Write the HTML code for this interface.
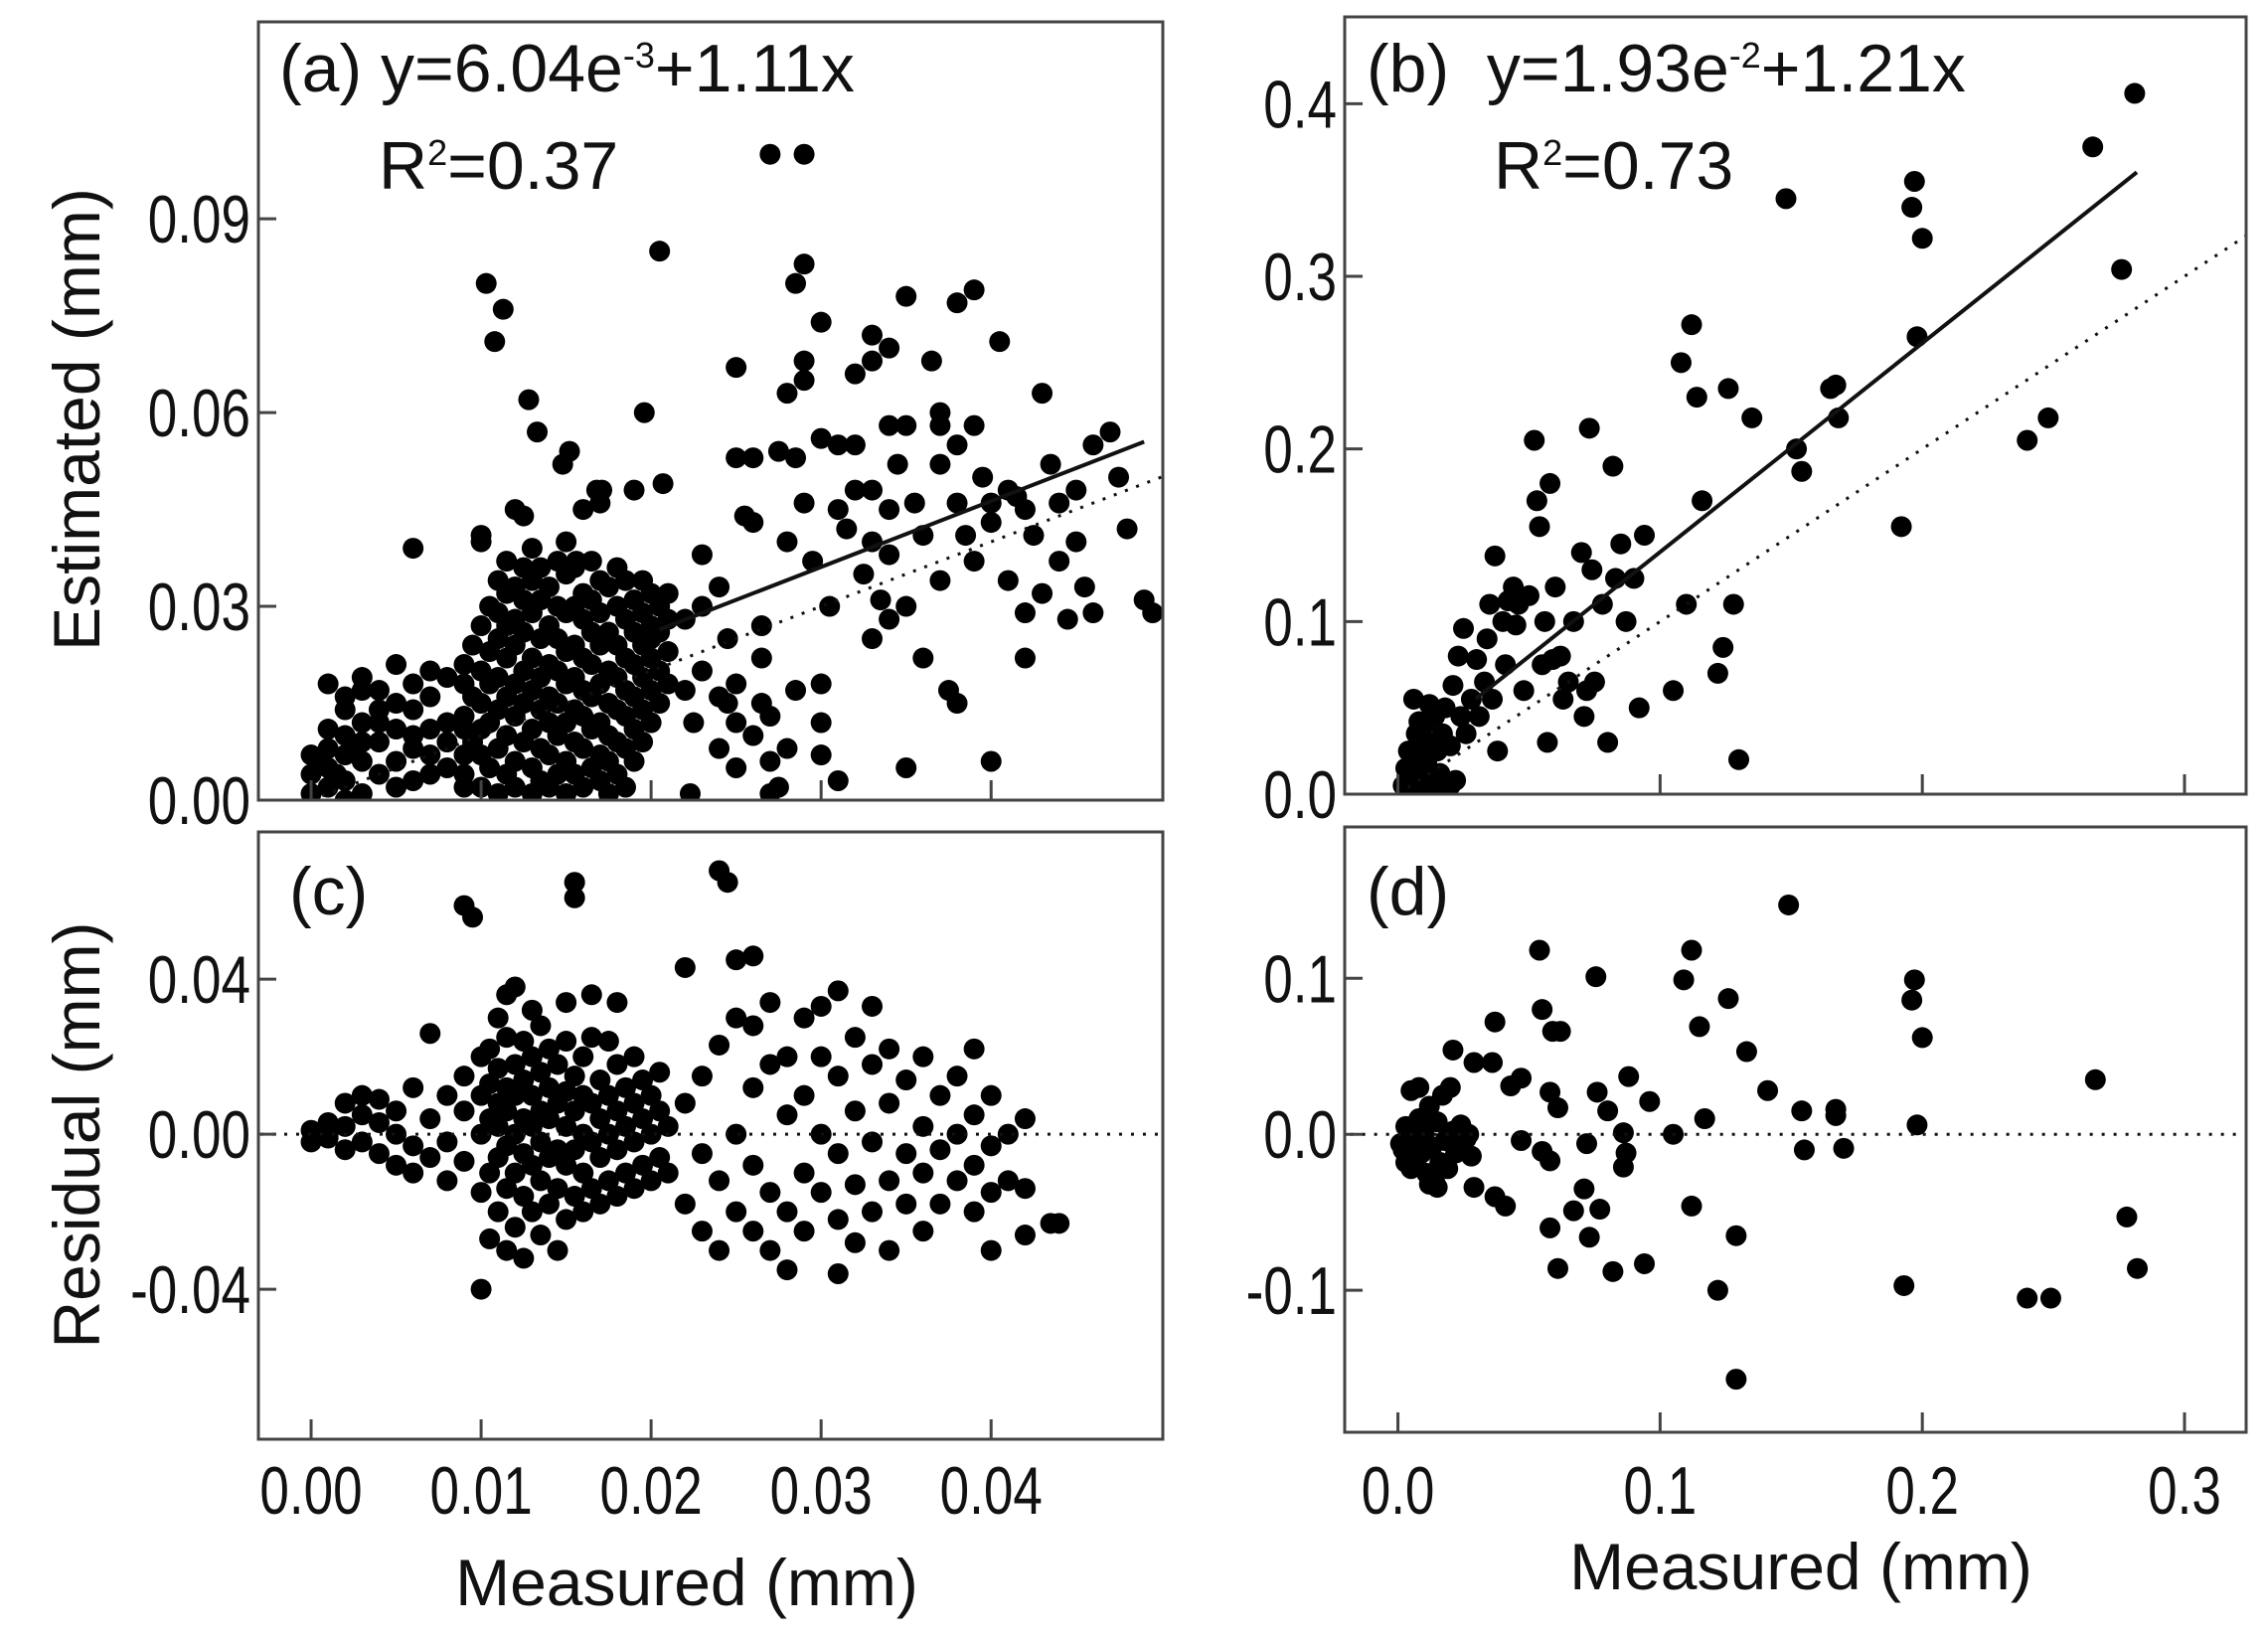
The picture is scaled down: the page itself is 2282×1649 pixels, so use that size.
<!DOCTYPE html>
<html><head><meta charset="utf-8">
<style>
html,body{margin:0;padding:0;background:#fff;}
svg{display:block;}
text{font-family:"Liberation Sans",Arial,sans-serif;fill:#111;}
</style></head>
<body>
<svg id="fig" width="2282" height="1649" viewBox="0 0 2282 1649" xmlns="http://www.w3.org/2000/svg"></svg>
<script>
// ---- data (a) ----
const aPts=[[0,0.007],[0,0.004],[0.001,0.008],[0.001,0.002],[0.001,0.005],[0.002,0.007],[0.002,0.003],[0.002,0.010],[0.003,0.006],[0.003,0.001],[0.003,0.009],[0.004,0.004],[0.004,0.012],[0,0.001],[0.001,0.011],[0.002,0],[0.003,0.012],[0.0005,0.006],[0.0015,0.004],[0.0025,0.008],
[0.001,0.018],[0.002,0.016],[0.003,0.019],[0.004,0.017],[0.005,0.021],[0.005,0.015],[0.006,0.018],[0.007,0.020],[0.002,0.014],[0.004,0.014],[0.006,0.014],[0.007,0.016],[0.008,0.019],[0.003,0.017],
[0.004,0.009],[0.005,0.006],[0.005,0.011],[0.006,0.008],[0.006,0.003],[0.007,0.007],[0.007,0.011],[0.008,0.005],[0.008,0.009],[0.008,0.012],[0.009,0.007],[0.009,0.002],[0.009,0.011],[0.005,0.002],[0.006,0.010],[0.007,0.004],[0.006,0.039],
[0.009,0.004],[0.009,0.013],[0.009,0.018],[0.009,0.021],[0.0095,0.009],[0.0095,0.016],[0.0095,0.024],
[0.010,0.002],[0.010,0.007],[0.010,0.011],[0.010,0.015],[0.010,0.020],[0.010,0.027],[0.010,0.041],[0.010,0.040],
[0.0105,0.005],[0.0105,0.012],[0.0105,0.018],[0.0105,0.023],[0.0105,0.030],
[0.011,0.001],[0.011,0.008],[0.011,0.014],[0.011,0.019],[0.011,0.025],[0.011,0.029],[0.011,0.034],
[0.0115,0.004],[0.0115,0.010],[0.0115,0.016],[0.0115,0.022],[0.0115,0.027],[0.0115,0.032],[0.0115,0.037],
[0.012,0.002],[0.012,0.006],[0.012,0.013],[0.012,0.018],[0.012,0.024],[0.012,0.028],[0.012,0.033],[0.012,0.045],
[0.0125,0.009],[0.0125,0.015],[0.0125,0.020],[0.0125,0.026],[0.0125,0.031],[0.0125,0.036],[0.0125,0.044],
[0.013,0.001],[0.013,0.005],[0.013,0.011],[0.013,0.017],[0.013,0.022],[0.013,0.029],[0.013,0.034],[0.013,0.039],
[0.0135,0.003],[0.0135,0.008],[0.0135,0.014],[0.0135,0.019],[0.0135,0.025],[0.0135,0.031],[0.0135,0.036],
[0.014,0.002],[0.014,0.007],[0.014,0.012],[0.014,0.016],[0.014,0.021],[0.014,0.027],[0.014,0.033],
[0.0145,0.004],[0.0145,0.010],[0.0145,0.015],[0.0145,0.020],[0.0145,0.025],[0.0145,0.030],[0.0145,0.037],
[0.015,0.001],[0.015,0.006],[0.015,0.012],[0.015,0.018],[0.015,0.023],[0.015,0.029],[0.015,0.035],[0.015,0.040],
[0.0155,0.004],[0.0155,0.009],[0.0155,0.014],[0.0155,0.019],[0.0155,0.024],[0.0155,0.030],[0.0155,0.036],
[0.016,0.002],[0.016,0.008],[0.016,0.013],[0.016,0.017],[0.016,0.022],[0.016,0.028],[0.016,0.032],[0.016,0.045],
[0.0165,0.005],[0.0165,0.011],[0.0165,0.016],[0.0165,0.021],[0.0165,0.026],[0.0165,0.031],[0.0165,0.037],
[0.017,0.003],[0.017,0.007],[0.017,0.012],[0.017,0.018],[0.017,0.024],[0.017,0.029],[0.017,0.034],[0.017,0.046],
[0.0175,0.001],[0.0175,0.006],[0.0175,0.010],[0.0175,0.015],[0.0175,0.020],[0.0175,0.026],[0.0175,0.033],
[0.018,0.004],[0.018,0.009],[0.018,0.014],[0.018,0.019],[0.018,0.024],[0.018,0.030],[0.018,0.036],
[0.0185,0.002],[0.0185,0.008],[0.0185,0.013],[0.0185,0.017],[0.0185,0.022],[0.0185,0.028],[0.0185,0.034],
[0.019,0.006],[0.019,0.011],[0.019,0.016],[0.019,0.021],[0.019,0.026],[0.019,0.031],[0.019,0.048],
[0.0195,0.009],[0.0195,0.014],[0.0195,0.019],[0.0195,0.024],[0.0195,0.029],[0.0195,0.034],
[0.020,0.012],[0.020,0.017],[0.020,0.022],[0.020,0.027],[0.020,0.032],[0.020,0.025],
[0.0205,0.015],[0.0205,0.020],[0.0205,0.026],[0.0205,0.030],[0.021,0.018],[0.021,0.023],[0.021,0.028],[0.021,0.032],
[0.0103,0.080],[0.0108,0.071],[0.0113,0.076],[0.0128,0.062],[0.0133,0.057],[0.0148,0.052],[0.0152,0.054],[0.0168,0.048],[0.0171,0.048],[0.0196,0.060],[0.0205,0.085],[0.0207,0.049],[0.0223,0.001],[0.0120,0.033],[0.0156,0.037],
[0.022,0.017],[0.022,0.028],[0.0225,0.012],[0.023,0.030],[0.023,0.020],[0.024,0.016],[0.024,0.008],[0.0245,0.015],[0.025,0.018],[0.025,0.012],[0.025,0.005],[0.025,0.067],[0.025,0.053],[0.0255,0.044],[0.026,0.043],[0.026,0.053],[0.0265,0.022],[0.026,0.010],[0.0265,0.015],[0.027,0.006],[0.027,0.013],[0.027,0.001],[0.0275,0.002],[0.027,0.100],[0.0275,0.054],[0.028,0.063],[0.028,0.040],[0.0285,0.017],[0.028,0.008],[0.029,0.100],[0.0285,0.080],[0.029,0.083],[0.029,0.065],[0.029,0.068],[0.0285,0.053],[0.029,0.046],[0.0295,0.037],[0.030,0.074],[0.030,0.056],[0.030,0.018],[0.030,0.012],[0.030,0.007],[0.0305,0.030],[0.031,0.055],[0.031,0.045],[0.031,0.003],[0.0315,0.042],[0.032,0.055],[0.032,0.066],[0.032,0.048],[0.0325,0.035],[0.033,0.072],[0.033,0.068],[0.033,0.048],[0.033,0.040],[0.0335,0.031],[0.033,0.025],[0.034,0.070],[0.034,0.058],[0.034,0.045],[0.0345,0.052],[0.034,0.038],[0.034,0.028],[0.035,0.078],[0.035,0.058],[0.035,0.030],[0.035,0.005],[0.0355,0.046],[0.036,0.022],[0.036,0.041],[0.0365,0.068],[0.037,0.060],[0.037,0.058],[0.037,0.052],[0.037,0.034],[0.0375,0.017],[0.038,0.077],[0.038,0.055],[0.038,0.046],[0.038,0.015],[0.0385,0.041],[0.039,0.079],[0.039,0.058],[0.039,0.037],[0.0395,0.050],[0.040,0.046],[0.040,0.006],[0.040,0.043],[0.0405,0.071],[0.041,0.048],[0.041,0.034],[0.0415,0.047],[0.042,0.045],[0.042,0.022],[0.0425,0.041],[0.042,0.029],[0.043,0.032],[0.043,0.063],[0.0435,0.052],[0.044,0.046],[0.044,0.037],[0.0445,0.028],[0.045,0.048],[0.045,0.040],[0.0455,0.033],[0.046,0.055],[0.046,0.029],[0.047,0.057],[0.0475,0.050],[0.048,0.042],[0.049,0.031],[0.0495,0.029],[0.023,0.038],[0.024,0.033],[0.0265,0.027],[0.0245,0.025]];
// ---- data (c) residuals ----
const cPts=[[0,0.001],[0,-0.002],[0.001,0.003],[0.001,-0.001],[0.001,0],[0.002,0.008],[0.002,-0.004],[0.002,0.002],[0.003,0.010],[0.003,-0.002],[0.003,0.005],[0.004,-0.005],[0.004,0.003],[0.004,0.009],[0.005,0],[0.005,-0.008],[0.005,0.006],[0.006,0.012],[0.006,-0.003],[0.006,-0.010],[0.007,0.004],[0.007,-0.006],[0.007,0.026],[0.008,0.010],[0.008,-0.002],[0.008,-0.012],[0.009,0.006],[0.009,-0.007],[0.009,0.015],[0.009,0.059],[0.0095,0.056],[0.010,0],[0.010,-0.015],[0.010,0.010],[0.010,-0.040],[0.010,0.020],
[0.0105,-0.027],[0.0105,-0.010],[0.0105,0.004],[0.0105,0.013],[0.0105,0.022],
[0.011,-0.020],[0.011,-0.006],[0.011,0.002],[0.011,0.008],[0.011,0.017],[0.011,0.030],
[0.0115,-0.030],[0.0115,-0.014],[0.0115,-0.003],[0.0115,0.006],[0.0115,0.012],[0.0115,0.025],[0.0115,0.036],
[0.012,-0.024],[0.012,-0.010],[0.012,0],[0.012,0.010],[0.012,0.018],[0.012,0.038],
[0.0125,-0.032],[0.0125,-0.016],[0.0125,-0.005],[0.0125,0.004],[0.0125,0.014],[0.0125,0.024],
[0.013,-0.020],[0.013,-0.008],[0.013,0.002],[0.013,0.010],[0.013,0.020],[0.013,0.032],
[0.0135,-0.026],[0.0135,-0.012],[0.0135,-0.002],[0.0135,0.006],[0.0135,0.016],[0.0135,0.028],
[0.014,-0.018],[0.014,-0.006],[0.014,0.004],[0.014,0.012],[0.014,0.022],
[0.0145,-0.030],[0.0145,-0.014],[0.0145,-0.004],[0.0145,0.008],[0.0145,0.018],
[0.015,-0.022],[0.015,-0.008],[0.015,0.002],[0.015,0.011],[0.015,0.024],[0.015,0.034],
[0.0155,-0.016],[0.0155,-0.004],[0.0155,0.006],[0.0155,0.015],[0.0155,0.061],[0.0155,0.065],
[0.016,-0.020],[0.016,-0.010],[0.016,0],[0.016,0.010],[0.016,0.020],
[0.0165,-0.014],[0.0165,-0.002],[0.0165,0.008],[0.0165,0.036],[0.0165,0.025],
[0.017,-0.018],[0.017,-0.006],[0.017,0.004],[0.017,0.014],
[0.0175,-0.012],[0.0175,0],[0.0175,0.010],[0.0175,0.024],
[0.018,-0.016],[0.018,-0.004],[0.018,0.006],[0.018,0.018],[0.018,0.034],
[0.0185,-0.010],[0.0185,0.002],[0.0185,0.012],
[0.019,-0.014],[0.019,-0.002],[0.019,0.008],[0.019,0.020],
[0.0195,-0.008],[0.0195,0.004],[0.0195,0.014],
[0.020,-0.012],[0.020,0],[0.020,0.010],[0.0205,-0.006],[0.0205,0.006],[0.0205,0.016],[0.021,-0.010],[0.021,0.002],
[0.022,0.043],[0.022,-0.018],[0.022,0.008],[0.023,-0.005],[0.023,0.015],[0.023,-0.025],[0.024,0.068],[0.0245,0.065],[0.024,0.023],[0.024,-0.012],[0.024,-0.030],[0.025,0.045],[0.025,0.030],[0.025,0],[0.025,-0.020],[0.026,0.046],[0.026,0.028],[0.026,0.012],[0.026,-0.008],[0.026,-0.025],[0.027,0.034],[0.027,0.018],[0.027,-0.015],[0.027,-0.030],[0.028,0.020],[0.028,0.005],[0.028,-0.020],[0.028,-0.035],[0.029,0.030],[0.029,0.010],[0.029,-0.010],[0.029,-0.025],[0.030,0.033],[0.030,0.020],[0.030,0],[0.030,-0.015],[0.031,0.037],[0.031,0.015],[0.031,-0.005],[0.031,-0.022],[0.031,-0.036],[0.032,0.025],[0.032,0.006],[0.032,-0.013],[0.032,-0.028],[0.033,0.033],[0.033,0.018],[0.033,-0.002],[0.033,-0.020],[0.034,0.022],[0.034,0.008],[0.034,-0.012],[0.034,-0.030],[0.035,0.014],[0.035,-0.005],[0.035,-0.018],[0.036,0.020],[0.036,0.002],[0.036,-0.010],[0.036,-0.025],[0.037,0.010],[0.037,-0.004],[0.037,-0.018],[0.038,0.015],[0.038,0],[0.038,-0.012],[0.039,0.022],[0.039,0.005],[0.039,-0.008],[0.039,-0.020],[0.040,0.010],[0.040,-0.003],[0.040,-0.015],[0.040,-0.030],[0.041,0],[0.041,-0.012],[0.042,0.004],[0.042,-0.014],[0.042,-0.026],[0.044,-0.023],[0.0435,-0.023]];
// ---- data (b) ----
const bPts=[[0.002,0.005],[0.003,0.015],[0.004,0.025],[0.005,0.008],[0.006,0.020],[0.007,0.035],[0.008,0.012],[0.009,0.028],[0.010,0.040],[0.011,0.018],[0.012,0.030],[0.013,0.006],[0.014,0.045],[0.015,0.025],[0.016,0.012],[0.017,0.035],[0.018,0.050],[0.006,0.055],[0.020,0.028],[0.021,0.063],[0.022,0.008],[0.023,0.080],[0.024,0.045],[0.025,0.096],[0.026,0.035],[0.028,0.055],[0.030,0.078],[0.031,0.045],[0.033,0.065],[0.034,0.090],[0.035,0.110],[0.036,0.055],[0.037,0.138],[0.038,0.025],[0.040,0.100],[0.041,0.075],[0.042,0.112],[0.044,0.120],[0.045,0.098],[0.046,0.110],[0.048,0.060],[0.050,0.115],[0.052,0.205],[0.053,0.170],[0.054,0.155],[0.055,0.075],[0.056,0.100],[0.057,0.030],[0.058,0.180],[0.059,0.078],[0.060,0.120],[0.062,0.080],[0.063,0.055],[0.065,0.065],[0.067,0.100],[0.070,0.140],[0.071,0.045],[0.072,0.060],[0.073,0.212],[0.074,0.130],[0.075,0.065],[0.078,0.110],[0.080,0.030],[0.082,0.190],[0.083,0.125],[0.085,0.145],[0.087,0.100],[0.090,0.125],[0.092,0.050],[0.094,0.150],[0.105,0.060],[0.108,0.250],[0.110,0.110],[0.112,0.272],[0.114,0.230],[0.116,0.170],[0.122,0.070],[0.124,0.085],[0.126,0.235],[0.128,0.110],[0.130,0.020],[0.135,0.218],[0.148,0.345],[0.152,0.200],[0.154,0.187],[0.165,0.235],[0.167,0.237],[0.168,0.218],[0.192,0.155],[0.196,0.340],[0.197,0.355],[0.198,0.265],[0.200,0.322],[0.240,0.205],[0.248,0.218],[0.265,0.375],[0.276,0.304],[0.281,0.406],[0.003,0],[0.010,0.002],[0.015,0],[0.020,0.005],[0.008,0.042],[0.012,0.052]];
// ---- data (d) residuals ----
const dPts=[[0.149,0.147],[0.054,0.118],[0.112,0.118],[0.0755,0.101],[0.109,0.099],[0.197,0.099],[0.196,0.086],[0.126,0.087],[0.055,0.080],[0.115,0.069],[0.200,0.062],[0.059,0.066],[0.062,0.066],[0.037,0.072],[0.133,0.053],[0.021,0.054],[0.029,0.046],[0.036,0.046],[0.266,0.035],[0.088,0.037],[0.141,0.028],[0.047,0.036],[0.043,0.031],[0.076,0.027],[0.096,0.021],[0.058,0.027],[0.154,0.015],[0.167,0.016],[0.167,0.012],[0.080,0.015],[0.061,0.017],[0.117,0.010],[0.198,0.006],[0.105,0],[0.086,0.001],[0.155,-0.010],[0.170,-0.009],[0.072,-0.006],[0.087,-0.012],[0.086,-0.021],[0.055,-0.011],[0.058,-0.017],[0.047,-0.004],[0.071,-0.035],[0.067,-0.049],[0.077,-0.048],[0.112,-0.046],[0.058,-0.060],[0.073,-0.066],[0.129,-0.065],[0.278,-0.053],[0.061,-0.086],[0.082,-0.088],[0.094,-0.083],[0.282,-0.086],[0.193,-0.097],[0.122,-0.100],[0.240,-0.105],[0.249,-0.105],[0.129,-0.157],[0.029,-0.034],[0.037,-0.040],[0.041,-0.046],
[0.002,-0.01],[0.003,0.005],[0.004,-0.015],[0.005,0.028],[0.006,-0.005],[0.007,-0.020],[0.008,0.010],[0.008,0.030],[0.009,-0.012],[0.010,0],[0.011,-0.025],[0.012,0.018],[0.013,-0.008],[0.014,-0.030],[0.015,0.008],[0.016,-0.018],[0.017,0.025],[0.018,-0.004],[0.019,-0.022],[0.020,0.030],[0.021,0.002],[0.022,-0.012],[0.024,0.006],[0.025,-0.008],[0.026,-0.003],[0.027,0],[0.028,-0.014],[0.005,-0.022],[0.003,-0.018],[0.001,-0.006],[0.012,-0.032],[0.015,-0.034]];
const aTicksX=[0,0.01,0.02,0.03,0.04], aTickLabX=["0.00","0.01","0.02","0.03","0.04"];
const aTicksY=[0,0.03,0.06,0.09], aTickLabY=["0.00","0.03","0.06","0.09"];
const bTicksX=[0,0.1,0.2,0.3], bTickLabX=["0.0","0.1","0.2","0.3"];
const bTicksY=[0,0.1,0.2,0.3,0.4], bTickLabY=["0.0","0.1","0.2","0.3","0.4"];
const cTicksY=[-0.04,0,0.04], cTickLabY=["-0.04","0.00","0.04"];
const dTicksY=[-0.1,0,0.1], dTickLabY=["-0.1","0.0","0.1"];
const aFit=[0.0055,1.02], bFit=[0.0193,1.21];

const NS="http://www.w3.org/2000/svg";
const svg=document.getElementById('fig');
const TS=0.78;
function el(tag,attrs,parent){const e=document.createElementNS(NS,tag);for(const k in attrs)e.setAttribute(k,attrs[k]);(parent||svg).appendChild(e);return e;}
function panel(name,box,xd,yd){
  const g=el('g',{});
  
  
  const sx=v=>box.l+(v-xd[0])/(xd[1]-xd[0])*(box.r-box.l);
  const sy=v=>box.b-(v-yd[0])/(yd[1]-yd[0])*(box.b-box.t);
  return {g,sx,sy,box};
}
function frame(P){
  const r=el('rect',{x:P.box.l,y:P.box.t,width:P.box.r-P.box.l,height:P.box.b-P.box.t,fill:'none',stroke:'#444','stroke-width':3},P.g);
  
  
}
function yTicks(P,ticks,labs){
  ticks.forEach((v,i)=>{const y=P.sy(v);
    el('line',{x1:P.box.l,x2:P.box.l+18,y1:y,y2:y,stroke:'#444','stroke-width':3},P.g);
    const t=el('text',{x:0,y:0,'font-size':68,'text-anchor':'end',transform:'translate('+(P.box.l-8)+','+(y+24)+') scale('+TS+',1)'},P.g);t.textContent=labs[i];
    
    });
}
function xTicks(P,ticks,labs){
  ticks.forEach((v,i)=>{const x=P.sx(v);
    el('line',{x1:x,x2:x,y1:P.box.b,y2:P.box.b-20,stroke:'#444','stroke-width':3},P.g);
    if(labs){const t=el('text',{x:0,y:0,'font-size':68,'text-anchor':'middle',transform:'translate('+x+',1523) scale('+TS+',1)'},P.g);t.textContent=labs[i];
    
    }});
}
function dots(P,pts,nm){
  const clip='clip-'+nm;
  const cp=el('clipPath',{id:clip},P.g);el('rect',{x:P.box.l,y:P.box.t,width:P.box.r-P.box.l,height:P.box.b-P.box.t},cp);
  const g=el('g',{'clip-path':'url(#'+clip+')'},P.g);
  pts.forEach(p=>{const c=el('circle',{cx:P.sx(p[0]),cy:P.sy(p[1]),r:10.5,fill:'#000'},g);
    
    });
  return g;
}
function line(P,x1,y1,x2,y2,dash,w,nm,parent){
  const l=el('line',{x1:P.sx(x1),y1:P.sy(y1),x2:P.sx(x2),y2:P.sy(y2),stroke:'#111','stroke-width':w,'stroke-dasharray':dash||'none'},parent||P.g);
  
  
}
function label(P,x,y,html,nm,fs){
  const t=el('text',{x:x,y:y,'font-size':fs||68},P.g);t.innerHTML=html;
  
  
}
// Panel a
const A=panel('panel-a',{l:260,r:1170,t:22,b:805},[-0.0031,0.0501],[0,0.1205]);
const ag=dots(A,aPts,'a');
line(A,0,0,0.06,0.06,'3 9',3,'one-to-one-line',ag);
line(A,0.0205,aFit[0]+aFit[1]*0.0205,0.049,aFit[0]+aFit[1]*0.049,null,4,'regression-line',ag);
frame(A);yTicks(A,aTicksY,aTickLabY);xTicks(A,aTicksX,null);
label(A,281,92,'(a) y=6.04e<tspan dy="-24" font-size="36">-3</tspan><tspan dy="24">+1.11x</tspan>','equation-a');
label(A,381,190,'R<tspan dy="-24" font-size="36">2</tspan><tspan dy="24">=0.37</tspan>','r2-a');
// Panel b
const B=panel('panel-b',{l:1353,r:2260,t:17,b:799},[-0.0203,0.3235],[0,0.4503]);
const bg=dots(B,bPts,'b');
line(B,0,0,0.34,0.34,'3 9',3,'one-to-one-line',bg);
line(B,0.0297,bFit[0]+bFit[1]*0.0297,0.2818,bFit[0]+bFit[1]*0.2818,null,4,'regression-line',bg);
frame(B);yTicks(B,bTicksY,bTickLabY);xTicks(B,bTicksX,null);
label(B,1375,92,'(b)&#160; y=1.93e<tspan dy="-24" font-size="36">-2</tspan><tspan dy="24">+1.21x</tspan>','equation-b');
label(B,1503,190,'R<tspan dy="-24" font-size="36">2</tspan><tspan dy="24">=0.73</tspan>','r2-b');
// Panel c
const C=panel('panel-c',{l:260,r:1170,t:837,b:1448},[-0.0031,0.0501],[-0.0787,0.078]);
const cg=dots(C,cPts,'c');
line(C,-0.01,0,0.06,0,'3 9',3,'zero-line',cg);
frame(C);yTicks(C,cTicksY,cTickLabY);xTicks(C,aTicksX,aTickLabX);
label(C,291,920,'(c)','label-c');
// Panel d
const D=panel('panel-d',{l:1353,r:2260,t:832,b:1441},[-0.0203,0.3235],[-0.191,0.197]);
const dg=dots(D,dPts,'d');
line(D,-0.05,0,0.4,0,'3 9',3,'zero-line',dg);
frame(D);yTicks(D,dTicksY,dTickLabY);xTicks(D,bTicksX,bTickLabX);
label(D,1375,920,'(d)','label-d');
// Axis titles
function title(txt,x,y,rot,nm){const t=el('text',{x:0,y:0,'font-size':66,'text-anchor':'middle',transform:'translate('+x+','+y+')'+(rot?' rotate(-90)':'')});t.textContent=txt;
  
  }
title('Estimated (mm)',100,422,true,'y-axis-title-estimated');
title('Residual (mm)',100,1142,true,'y-axis-title-residual');
title('Measured (mm)',691,1615,false,'x-axis-title-c');
title('Measured (mm)',1812,1599,false,'x-axis-title-d');
</script>
</body></html>
